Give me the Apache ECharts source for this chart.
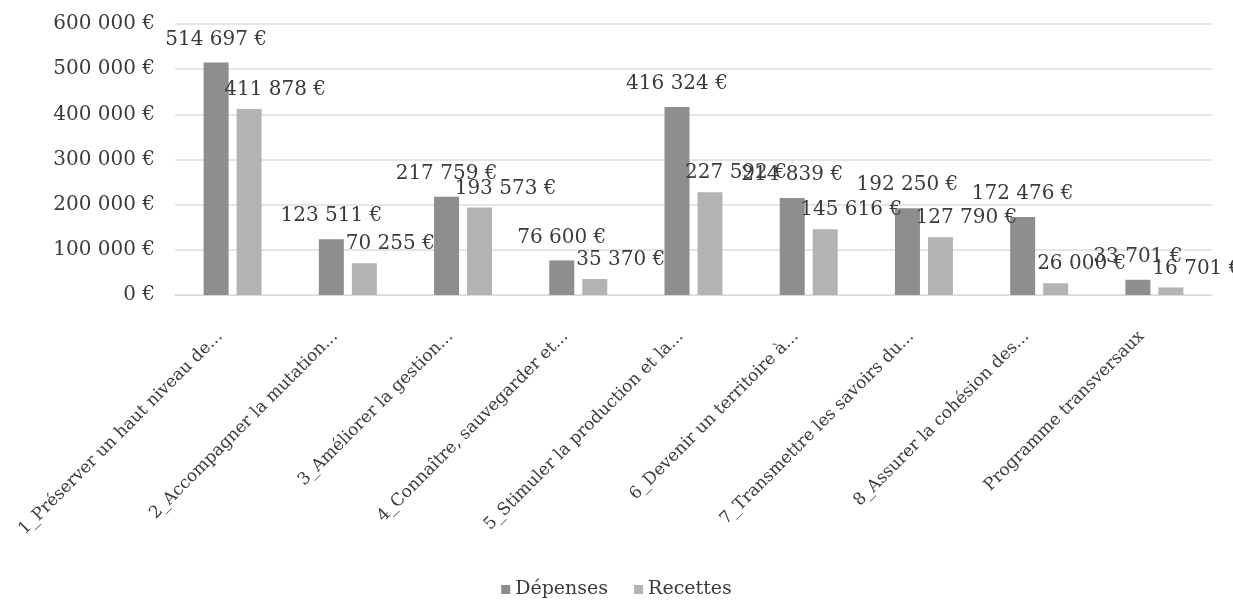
<!DOCTYPE html>
<html>
<head>
<meta charset="utf-8">
<script src="https://cdn.jsdelivr.net/npm/echarts@6/dist/echarts.min.js"></script>
<style>
  html, body { margin: 0; padding: 0; background: #fff; }
  #chartWrap { width: 1233px; height: 600px; }
</style>
</head>
<body>
<div id="chartWrap"></div>
<script>
// categories (libelles tronques comme dans le graphique)
var categories = [
  '1_Préserver un haut niveau de...',
  '2_Accompagner la mutation...',
  '3_Améliorer la gestion...',
  '4_Connaître, sauvegarder et...',
  '5_Stimuler la production et la...',
  '6_Devenir un territoire à...',
  '7_Transmettre les savoirs du...',
  '8_Assurer la cohésion des...',
  'Programme transversaux'
]
var depenses = [514697, 123511, 217759, 76600, 416324, 214839, 192250, 172476, 33701]
var recettes = [411878, 70255, 193573, 35370, 227592, 145616, 127790, 26000, 16701]
var yTicks = [0, 100000, 200000, 300000, 400000, 500000, 600000]

var FONT = 'DejaVu Serif'
var TXT = '#3b3b3b'

// 514697 -> "514 697 €"
function euro(v) {
  return String(v).replace(/\B(?=(\d{3})+(?!\d))/g, ' ') + ' €'
}

var myChart = echarts.init(document.getElementById('chartWrap'))
myChart.setOption({
  animation: false,
  textStyle: { fontFamily: FONT, color: TXT },
  grid: { left: 175, right: 21, top: 24, bottom: 305 },
  legend: {
    bottom: -4,
    left: 'center',
    itemWidth: 9,
    itemHeight: 9,
    itemGap: 26,
    icon: 'rect',
    textStyle: { fontFamily: FONT, fontSize: 19, color: TXT },
    data: ['Dépenses', 'Recettes']
  },
  xAxis: {
    type: 'category',
    data: categories,
    axisLine: { lineStyle: { color: '#d9d9d9' } },
    axisTick: { show: false },
    axisLabel: {
      rotate: 45,
      interval: 0,
      margin: 26,
      padding: [0, 18, 0, 0],
      fontFamily: FONT,
      fontSize: 17,
      color: TXT
    }
  },
  yAxis: {
    type: 'value',
    min: yTicks[0],
    max: yTicks[yTicks.length - 1],
    interval: yTicks[1] - yTicks[0],
    axisLine: { show: false },
    axisTick: { show: false },
    splitLine: { lineStyle: { color: '#dcdcdc', width: 1.5 } },
    axisLabel: {
      margin: 20,
      fontFamily: FONT,
      fontSize: 20,
      color: TXT,
      formatter: euro
    }
  },
  series: [
    {
      name: 'Dépenses',
      type: 'bar',
      data: depenses,
      barWidth: 25,
      barGap: '32%',
      itemStyle: { color: '#8e8e8e' },
      label: {
        show: true,
        position: 'top',
        distance: 13,
        fontFamily: FONT,
        fontSize: 20,
        color: TXT,
        formatter: function (p) { return euro(p.value) }
      }
    },
    {
      name: 'Recettes',
      type: 'bar',
      data: recettes,
      barWidth: 25,
      itemStyle: { color: '#b3b3b3' },
      label: {
        show: true,
        position: 'top',
        distance: 9,
        offset: [26, 0],
        fontFamily: FONT,
        fontSize: 20,
        color: TXT,
        formatter: function (p) { return euro(p.value) }
      }
    }
  ]
})
</script>
</body>
</html>
